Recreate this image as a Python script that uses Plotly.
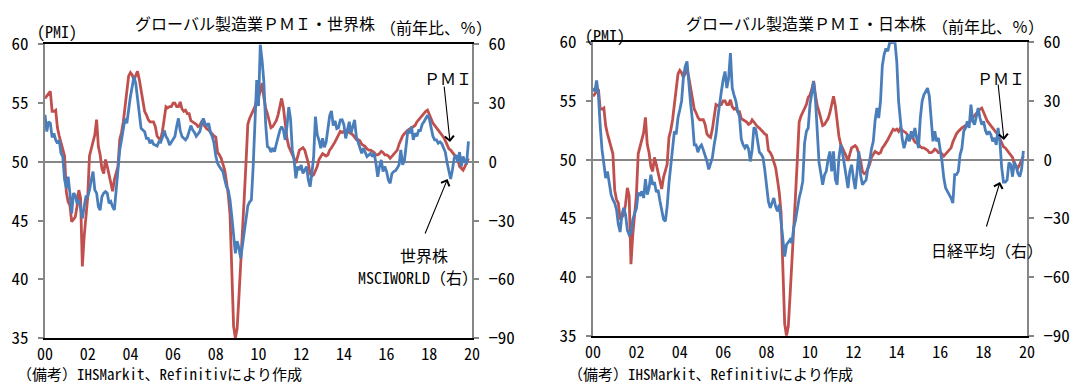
import plotly.graph_objects as go

W, H = 1074, 384

# Global manufacturing PMI, monthly Jan 2000 - Nov 2019
pmi = [
    55.4, 55.6, 55.8, 56.0, 54.3, 54.3, 54.4, 52.9, 52.2, 51.6, 50.9, 50.5,
    47.4, 46.6, 46.3, 44.9, 45.1, 45.3, 46.2, 47.6, 46.9, 41.1, 43.6, 45.1,
    47.0, 50.5, 51.2, 51.6, 52.3, 53.6, 51.3, 50.6, 49.4, 49.0, 50.2, 49.6,
    48.8, 48.2, 47.5, 48.5, 49.0, 49.6, 51.9, 52.5, 53.4, 54.7, 56.0, 57.3,
    57.6, 57.4, 57.0, 57.3, 57.7, 57.0, 56.2, 55.3, 54.3, 54.0, 53.6, 53.4,
    53.4, 53.4, 53.0, 52.2, 52.0, 51.9, 52.6, 53.5, 54.7, 54.6, 54.7, 54.7,
    55.0, 55.0, 54.7, 54.7, 55.1, 54.5, 54.3, 54.4, 54.1, 54.1, 53.5, 53.4,
    53.3, 53.2, 53.0, 53.1, 53.4, 53.2, 52.9, 52.8, 52.7, 52.5, 52.3, 52.2,
    52.1, 50.8, 50.6, 50.3, 49.8, 49.3, 48.3, 47.2, 45.5, 40.5, 36.0, 35.0,
    35.8, 38.5, 41.1, 44.0, 47.0, 50.0, 53.2, 53.7, 54.0, 54.4, 54.7, 55.3,
    55.5, 56.0, 56.7, 55.5, 54.6, 54.1, 53.5, 52.9, 53.0, 53.2, 53.5, 54.0,
    54.8, 55.4, 54.6, 53.0, 52.0, 51.3, 51.0, 50.6, 50.3, 49.9, 50.4, 51.0,
    51.1, 51.2, 51.0, 50.5, 49.9, 49.0, 48.8, 48.9, 49.2, 49.6, 50.2, 50.5,
    50.7, 50.6, 50.5, 50.6, 51.0, 51.2, 51.4, 51.7, 52.0, 52.3, 52.6, 52.5,
    52.6, 52.4, 52.7, 52.5, 52.4, 52.3, 52.1, 51.9, 51.9, 51.8, 51.5, 51.4,
    51.3, 51.1, 51.0, 51.0, 50.9, 50.8, 50.6, 50.6, 50.7, 50.9, 50.8, 50.6,
    50.6, 50.5, 50.3, 50.5, 50.7, 50.9, 51.0, 51.5, 51.9, 52.2, 52.4, 52.6,
    52.7, 52.8, 52.9, 53.0, 53.1, 53.4, 53.6, 53.7, 53.9, 54.1, 54.3, 54.4,
    54.0, 53.6, 53.3, 53.1, 52.9, 52.7, 52.6, 52.3, 52.1, 51.8, 51.5, 51.1,
    51.0, 50.8, 50.6, 50.4, 50.2, 49.6, 49.4, 49.3, 49.6, 50.0, 50.3,
]

# MSCI World, year-on-year %, monthly
msci_world = [
    24.0, 15.5, 20.5, 19.7, 12.5, 14.6, 11.2, 9.5, 11.0, 4.4, 2.7, -9.0,
    -13.5, -7.6, -16.0, -26.3, -16.0, -16.9, -21.2, -19.5, -23.7, -28.9, -22.9, -17.8,
    -17.8, -14.4, -9.3, -5.0, -14.4, -16.0, -22.9, -24.6, -17.8, -16.0, -15.2, -16.0,
    -21.2, -20.3, -22.9, -24.6, -14.4, -5.0, 6.1, 11.2, 18.0, 22.2, 19.7, 28.2,
    33.3, 38.4, 43.5, 40.1, 31.6, 24.8, 17.1, 16.3, 15.4, 12.0, 12.0, 9.5,
    11.2, 9.0, 8.6, 8.1, 10.3, 10.0, 12.5, 16.0, 13.0, 11.5, 8.6, 10.0,
    11.0, 12.9, 18.0, 22.2, 16.0, 12.9, 12.0, 11.2, 12.5, 16.0, 18.5, 16.3,
    15.0, 13.0, 14.0, 15.4, 19.0, 22.2, 19.5, 18.5, 19.7, 15.0, 13.0, 9.5,
    3.0, -0.7, -2.4, -3.5, -5.0, -9.0, -12.7, -14.4, -19.5, -28.0, -36.5, -46.7,
    -40.5, -44.0, -49.3, -43.0, -36.0, -28.5, -22.5, -20.5, -19.5, -2.4, 16.3, 41.8,
    28.5, 60.0, 52.0, 41.0, 19.7, 7.8, 7.2, 5.0, 7.0, 5.2, 9.0, 12.9,
    16.0, 18.0, 16.3, 11.2, 18.0, 28.0, 22.0, 6.1, 1.0, -8.4, -2.4, -4.2,
    -1.6, -5.9, -4.0, -2.4, -9.3, -12.7, -5.9, 2.7, 23.1, 14.0, 11.0, 7.0,
    12.0, 7.5, 10.0, 16.5, 23.5, 26.0, 18.5, 21.0, 17.0, 17.5, 21.4, 21.5,
    19.0, 12.0, 16.5, 20.5, 14.6, 18.0, 21.4, 12.9, 10.0, 7.5, 4.4, 7.0,
    4.4, 2.7, 3.5, 4.4, 2.7, 4.4, -0.7, -7.6, -2.4, 1.0, -5.0, -2.4,
    -5.0, -9.3, -11.0, -6.0, -5.0, -4.5, -3.2, -1.5, 6.1, -1.5, 0.5, 9.5,
    16.3, 14.6, 18.0, 11.2, 14.6, 13.0, 16.0, 16.0, 19.2, 20.5, 22.5, 23.8,
    22.0, 17.3, 13.2, 11.2, 11.2, 9.5, 10.2, 9.3, 6.7, 5.0, -0.5, -5.0,
    -8.8, -4.0, 2.0, 3.5, 0.0, 5.0, -2.4, 2.7, 0.0, -0.5, 10.5,
]

# Nikkei 225, year-on-year %, monthly
nikkei = [
    36.6, 34.9, 40.5, 33.0, 17.0, 5.0, -2.0, -9.4, -6.0, -11.1, -17.9, -20.5,
    -22.2, -25.5, -33.0, -37.0, -28.0, -24.7, -28.0, -36.0, -38.4, -37.5, -30.7, -27.5,
    -25.0, -17.0, -17.9, -16.2, -19.6, -10.0, -17.9, -14.5, -7.7, -12.8, -11.5, -16.5,
    -15.5, -21.0, -26.0, -30.5, -31.5, -24.0, -12.0, -2.6, 7.6, 14.5, 13.0, 21.5,
    25.5, 30.0, 42.0, 47.7, 50.2, 38.0, 28.5, 20.0, 7.6, 7.6, 3.8, 6.5,
    7.5, 5.0, 2.5, -0.8, -5.0, -1.5, 1.0, 7.6, 12.8, 21.3, 27.0, 35.0,
    41.0, 45.1, 36.6, 41.7, 54.5, 36.6, 33.0, 30.0, 24.7, 22.0, 10.5, 7.6,
    6.0, 7.6, 5.5, -0.9, 5.0, 16.5, 15.5, 9.0, 3.8, 2.8, 1.1, -5.2,
    -12.6, -21.5, -24.7, -22.2, -19.6, -24.0, -26.4, -23.0, -31.0, -41.8, -49.5, -43.5,
    -41.8, -40.9, -42.6, -34.6, -31.0, -24.2, -19.6, -15.9, -11.0, 8.5, 14.4, 16.1,
    28.3, 34.0, 40.0, 31.0, 12.0, -1.5, -7.0, -12.8, -7.8, -6.0, 0.1, 4.2,
    -6.0, 4.2, -10.0, -12.8, 1.0, 7.6, 3.5, -2.6, -9.5, -14.5, -6.0, -2.6,
    -9.4, -15.0, -6.5, 4.2, -8.0, -12.8, -11.5, -10.5, -4.5, -0.5, 5.5, 9.4,
    20.0, 26.4, 21.3, 30.0, 48.0, 53.7, 56.9, 55.4, 59.6, 60.0, 60.0, 60.0,
    50.0, 29.8, 19.0, 10.5, 5.9, 10.0, 12.8, 9.4, 14.5, 11.1, 16.2, 11.1,
    5.9, 21.3, 29.8, 33.2, 35.0, 36.6, 32.4, 22.0, 9.4, 14.5, 9.4, 11.1,
    5.9, -0.9, -9.4, -14.5, -16.2, -17.9, -19.6, -22.2, -7.7, -7.7, -6.0, 2.5,
    5.9, 14.5, 16.2, 19.6, 16.2, 28.1, 19.6, 17.9, 23.0, 26.4, 21.3, 17.9,
    19.6, 15.0, 12.8, 14.5, 12.8, 9.4, 11.1, 7.6, 16.2, 9.4, -4.0, -11.5,
    -11.5, -10.4, -1.5, -2.5, -8.7, -1.0, -3.6, -7.0, -8.7, -5.0, 4.5,
]

year_ticks = list(range(2000, 2021, 2))
year_labels = ["00", "02", "04", "06", "08", "10", "12", "14", "16", "18", "20"]
pmi_ticks = [35, 40, 45, 50, 55, 60]
pct_ticks = [-90, -60, -30, 0, 30, 60]
pct_labels = ["\u221290", "\u221260", "\u221230", "0", "30", "60"]

months = [2000 + i / 12 for i in range(len(pmi))]

RED = "#C0504D"
BLUE = "#4A7EBB"
GREY = "#868686"
FONT = "Noto Sans Mono CJK JP, Noto Sans CJK JP, sans-serif"


def px(x):
    return x / W


def py(y):
    return 1 - y / H


fig = go.Figure()

fig.add_trace(go.Scatter(x=months, y=pmi, xaxis="x", yaxis="y", mode="lines",
                         line=dict(color=RED, width=2.8), showlegend=False))
fig.add_trace(go.Scatter(x=months, y=msci_world, xaxis="x", yaxis="y2", mode="lines",
                         line=dict(color=BLUE, width=2.8), showlegend=False))
fig.add_trace(go.Scatter(x=months, y=pmi, xaxis="x2", yaxis="y3", mode="lines",
                         line=dict(color=RED, width=2.8), showlegend=False))
fig.add_trace(go.Scatter(x=months, y=nikkei, xaxis="x2", yaxis="y4", mode="lines",
                         line=dict(color=BLUE, width=2.8), showlegend=False))

tickfont = dict(family=FONT, size=17, color="#000")

xcommon = dict(range=[2000, 2020], tickvals=year_ticks, ticktext=year_labels,
               showline=True, linecolor="#000", linewidth=1.5, mirror=True,
               ticks="", showgrid=False, zeroline=False,
               tickfont=dict(family=FONT, size=16, color="#000"),
               ticklabelstandoff=1, fixedrange=True, automargin=False)
ycommon = dict(showline=True, linecolor=GREY, linewidth=2, ticks="outside",
               ticklen=5, tickwidth=1.5, tickcolor=GREY, showgrid=False,
               tickfont=tickfont, ticklabelstandoff=6, fixedrange=True,
               automargin=False)

left_dom = [px(45), px(472)]
right_dom = [px(593), px(1027)]
left_y = [py(338), py(44.4)]
right_y = [py(335.7), py(42.3)]

fig.update_layout(
    width=W, height=H, autosize=False,
    margin=dict(l=0, r=0, t=0, b=0, pad=0),
    paper_bgcolor="white", plot_bgcolor="white",
    font=dict(family=FONT, color="#000"),
    xaxis=dict(domain=left_dom, anchor="y", **xcommon),
    xaxis2=dict(domain=right_dom, anchor="y3", **xcommon),
    yaxis=dict(domain=left_y, anchor="x", range=[35, 60], tickvals=pmi_ticks,
               zeroline=False, **ycommon),
    yaxis2=dict(domain=left_y, anchor="x", overlaying="y", side="right",
                range=[-90, 60], tickvals=pct_ticks, ticktext=pct_labels,
                zeroline=True, zerolinecolor=GREY, zerolinewidth=1.5, **ycommon),
    yaxis3=dict(domain=right_y, anchor="x2", range=[35, 60], tickvals=pmi_ticks,
                zeroline=False, **ycommon),
    yaxis4=dict(domain=right_y, anchor="x2", overlaying="y3", side="right",
                range=[-90, 60], tickvals=pct_ticks, ticktext=pct_labels,
                zeroline=True, zerolinecolor=GREY, zerolinewidth=1.5, **ycommon),
)

notes = [
    ("グローバル製造業ＰＭＩ・世界株", 255, 22.5, 16, "center", "middle"),
    ("グローバル製造業ＰＭＩ・日本株", 806, 22.5, 16, "center", "middle"),
    ("(PMI)", 57, 31, 16, "center", "middle"),
    ("(PMI)", 605, 35, 16, "center", "middle"),
    ("（前年比、％）", 436, 27, 16, "center", "middle"),
    ("（前年比、％）", 988, 26, 16, "center", "middle"),
    ("ＰＭＩ", 448, 78, 16, "center", "middle"),
    ("ＰＭＩ", 1001, 78, 16, "center", "middle"),
    ("世界株", 424, 255, 16, "center", "middle"),
    ("MSCIWORLD（右）", 418, 277, 16, "center", "middle"),
    ("日経平均（右）", 987, 250, 16, "center", "middle"),
    ("（備考）IHSMarkit、Refinitivにより作成", 16, 385, 15, "left", "bottom"),
    ("（備考）IHSMarkit、Refinitivにより作成", 567, 385, 15, "left", "bottom"),
]
for text, x, y, size, xa, ya in notes:
    fig.add_annotation(text=text, x=px(x), y=py(y), xref="paper", yref="paper",
                       xanchor=xa, yanchor=ya, showarrow=False, borderpad=0,
                       font=dict(family=FONT, size=size, color="#000"))

# pointer arrows: (head x, head y, tail offset x, tail offset y)
arrows = [
    (450, 142, -6, -57),
    (447.5, 179, -23, 56),
    (1004, 140, -6, -57),
    (1000, 182, -14, 46),
]
for hx, hy, ax, ay in arrows:
    fig.add_annotation(text="", x=px(hx), y=py(hy), xref="paper", yref="paper",
                       showarrow=True, ax=ax, ay=ay, arrowhead=4, arrowsize=1.6,
                       arrowwidth=1.1, arrowcolor="#000", standoff=0)

fig.write_html("out.html")
